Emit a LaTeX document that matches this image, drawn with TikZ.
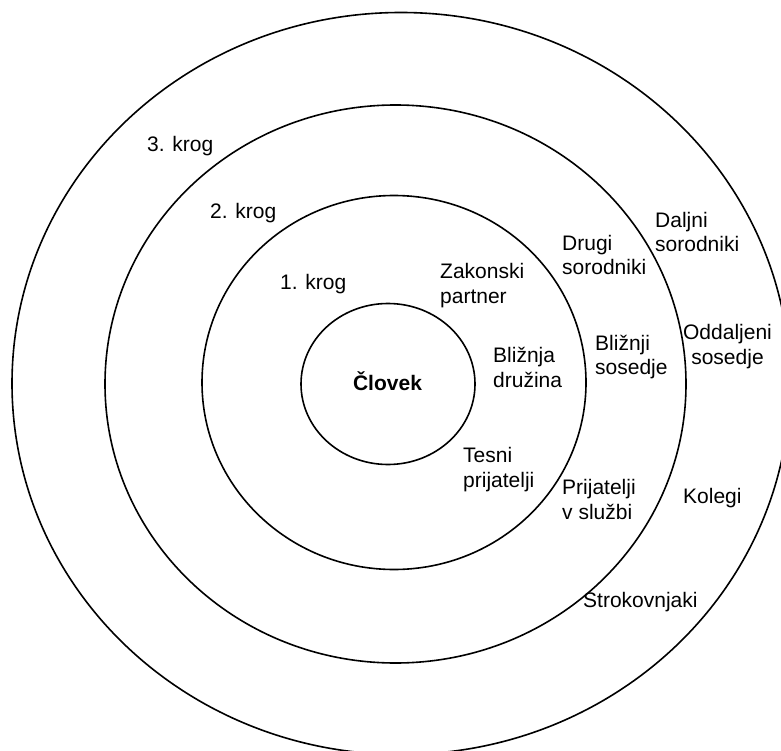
\documentclass[tikz,border=0pt]{standalone}
\usepackage{fontspec}
\setmainfont{Liberation Sans}
\begin{document}
\begin{tikzpicture}[x=1pt,y=-1pt,
  ring/.style={line width=1.6pt},
  lbl/.style={inner sep=0pt, font=\fontsize{21}{24.5}\selectfont, align=left, anchor=west},
  clbl/.style={inner sep=0pt, font=\fontsize{21}{24.5}\selectfont, align=center}]
\useasboundingbox[fill=white] (0,0) rectangle (781,751);
\draw[ring] (401,383.5) ellipse [x radius=389, y radius=371];
\draw[ring] (395.5,384) ellipse [x radius=290.5, y radius=279];
\draw[ring] (394,382.5) ellipse [x radius=192, y radius=187];
\draw[ring] (388,384) ellipse [x radius=87, y radius=80.5];
\node[clbl, font=\fontsize{21}{24.5}\selectfont\bfseries] (clovek) at (387.5,381) {Človek};
\node[lbl] (k3) at (147,146) {3. krog};
\node[lbl] (k2) at (210,213) {2. krog};
\node[lbl] (k1) at (280,284) {1. krog};
\node[lbl] (zak) at (440,285.5) {Zakonski\\partner};
\node[lbl] (bdr) at (493,367.5) {Bližnja\\družina};
\node[lbl] (drs) at (562,255) {Drugi\\sorodniki};
\node[lbl] (bso) at (595,357) {Bližnji\\sosedje};
\node[lbl] (dso) at (655,232) {Daljni\\sorodniki};
\node[clbl] (oso) at (727.5,346.5) {Oddaljeni\\sosedje};
\node[lbl] (tes) at (463,469.5) {Tesni\\prijatelji};
\node[lbl] (pvs) at (562,499.5) {Prijatelji\\v službi};
\node[lbl] (kol) at (683,498) {Kolegi};
\node[lbl] (str) at (583,602) {Strokovnjaki};
\end{tikzpicture}
\end{document}
